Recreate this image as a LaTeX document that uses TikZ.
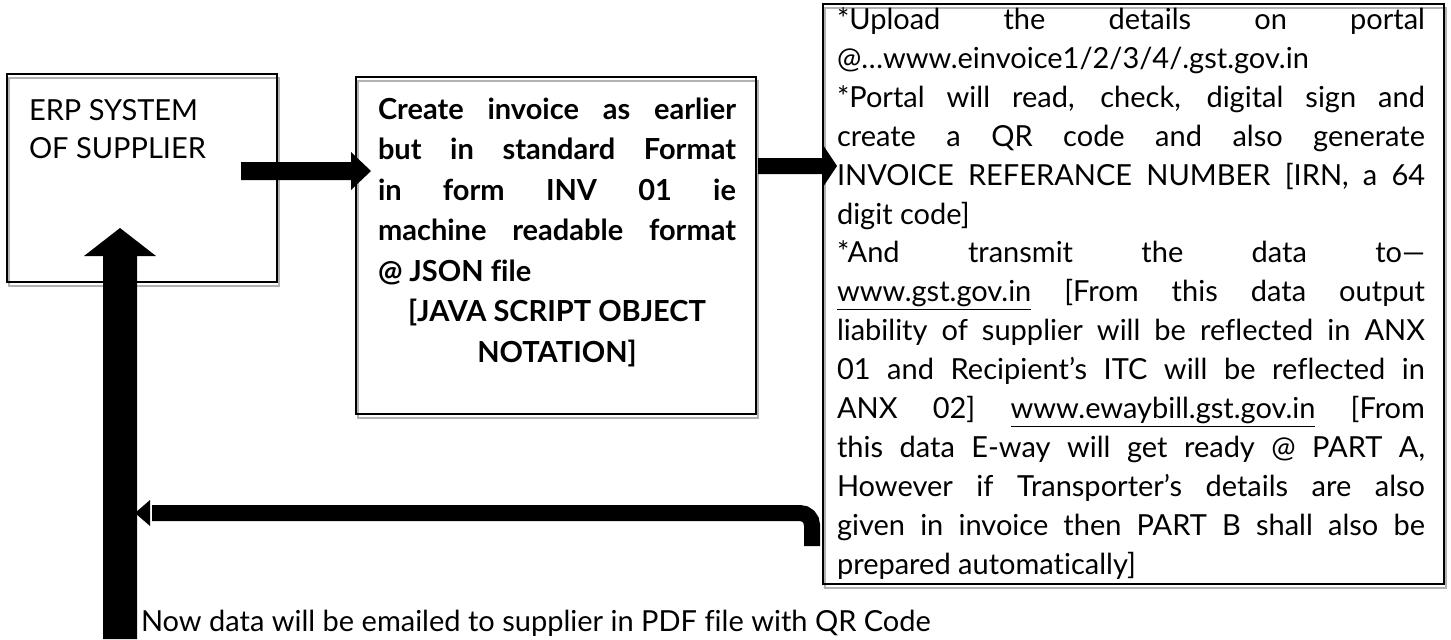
\documentclass[tikz,border=0pt]{standalone}
\usepackage{fontspec}
\setmainfont[Ligatures=NoCommon]{Lato}
\usetikzlibrary{calc,backgrounds}

% one justified line, one flush-left line, one centred line
\newcommand\jl[1]{\makebox[\linewidth][s]{#1}\par}
\newcommand\lft[1]{\makebox[\linewidth][l]{#1}\par}
\newcommand\ctr[1]{\makebox[\linewidth][c]{#1}\par}

% rightward block arrow: start, tip, half shaft, half head, head length
\newcommand\harrow[5]{%
  \fill ($(#1)+(0,-#3)$) -- ($(#2)+(-#5,-#3)$) -- ($(#2)+(-#5,-#4)$) -- (#2)
        -- ($(#2)+(-#5,#4)$) -- ($(#2)+(-#5,#3)$) -- ($(#1)+(0,#3)$) -- cycle;}
% upward block arrow: start, tip, half shaft, half head, head length
\newcommand\varrow[5]{%
  \fill ($(#1)+(-#3,0)$) -- ($(#2)+(-#3,#5)$) -- ($(#2)+(-#4,#5)$) -- (#2)
        -- ($(#2)+(#4,#5)$) -- ($(#2)+(#3,#5)$) -- ($(#1)+(#3,0)$) -- cycle;}

\begin{document}
\begin{tikzpicture}[x=0.5pt,y=-0.5pt,
  boxline/.style={draw=black,line width=1pt,inner sep=0pt,outer sep=0pt,anchor=north west},
  shadeline/.style={draw=black!30,line width=1pt},
  bodytext/.style={anchor=base west,inner sep=0pt,outer sep=0pt}]
\useasboundingbox (0,0) rectangle (1451,639);

% boxes
\node[boxline,minimum width=135pt,minimum height=104pt] (erp) at (7,74) {};
\node[boxline,minimum width=200pt,minimum height=168.5pt] (inv) at (356,77) {};
\node[boxline,minimum width=310.5pt,minimum height=290pt] (portal) at (823,4) {};

\begin{scope}[on background layer]
  \foreach \n in {erp,inv,portal}
    \draw[shadeline] ([shift={(2,3.5)}]\n.north west) rectangle ([shift={(2,3.5)}]\n.south east);
\end{scope}

% texts
\node[bodytext] (erptxt) at (29,120) {\parbox[t]{115pt}{\fontsize{14.5}{19}\selectfont
  \lft{ERP SYSTEM}
  \lft{OF SUPPLIER}}};

\node[bodytext] (invtxt) at (378,119) {\parbox[t]{179pt}{\fontsize{14.5}{20.25}\selectfont\bfseries
  \jl{Create invoice as earlier}
  \jl{but in standard Format}
  \jl{in form INV 01 ie}
  \jl{machine readable format}
  \lft{@ JSON file}
  \ctr{[JAVA SCRIPT OBJECT}
  \ctr{NOTATION]}}};

\node[bodytext] (portaltxt) at (837,29.5) {\parbox[t]{294pt}{\fontsize{14.5}{19.45}\selectfont
  \jl{*Upload the details on portal}
  \lft{@…www.einvoice1/2/3/4/.gst.gov.in}
  \jl{*Portal will read, check, digital sign and}
  \jl{create a QR code and also generate}
  \jl{INVOICE REFERANCE NUMBER [IRN, a 64}
  \lft{digit code]}
  \jl{*And transmit the data to—}
  \jl{\underline{www.gst.gov.in} [From this data output}
  \jl{liability of supplier will be reflected in ANX}
  \jl{01 and Recipient’s ITC will be reflected in}
  \jl{ANX 02] \underline{www.ewaybill.gst.gov.in} [From}
  \jl{this data E-way will get ready @ PART A,}
  \jl{However if Transporter’s details are also}
  \jl{given in invoice then PART B shall also be}
  \lft{prepared automatically]}}};

\node[bodytext,font=\fontsize{14.5}{19}\selectfont] (note) at (141,631)
  {Now data will be emailed to supplier in PDF file with QR Code};

% arrow end points
\coordinate (a1s) at (241,171); \coordinate (a1t) at (371,171);
\coordinate (a2s) at (758,166); \coordinate (a2t) at (837,166);
\coordinate (a3s) at (120,639); \coordinate (a3t) at (120,228);
\coordinate (a4s) at (812,546); \coordinate (a4b) at (150,513); \coordinate (a4t) at (135,513);

% ERP -> invoice, invoice -> portal
\harrow{a1s}{a1t}{9}{19}{20}
\harrow{a2s}{a2t}{8}{21}{14}
% mail back to the supplier
\varrow{a3s}{a3t}{17}{36}{28}
% portal -> back to the supplier line
\draw[line width=8pt,rounded corners=6pt] (a4s) |- ($(a4b)+(2,0)$);
\fill ($(a4b)+(0,-13)$) -- (a4t) -- ($(a4b)+(0,13)$) -- cycle;
\end{tikzpicture}
\end{document}
